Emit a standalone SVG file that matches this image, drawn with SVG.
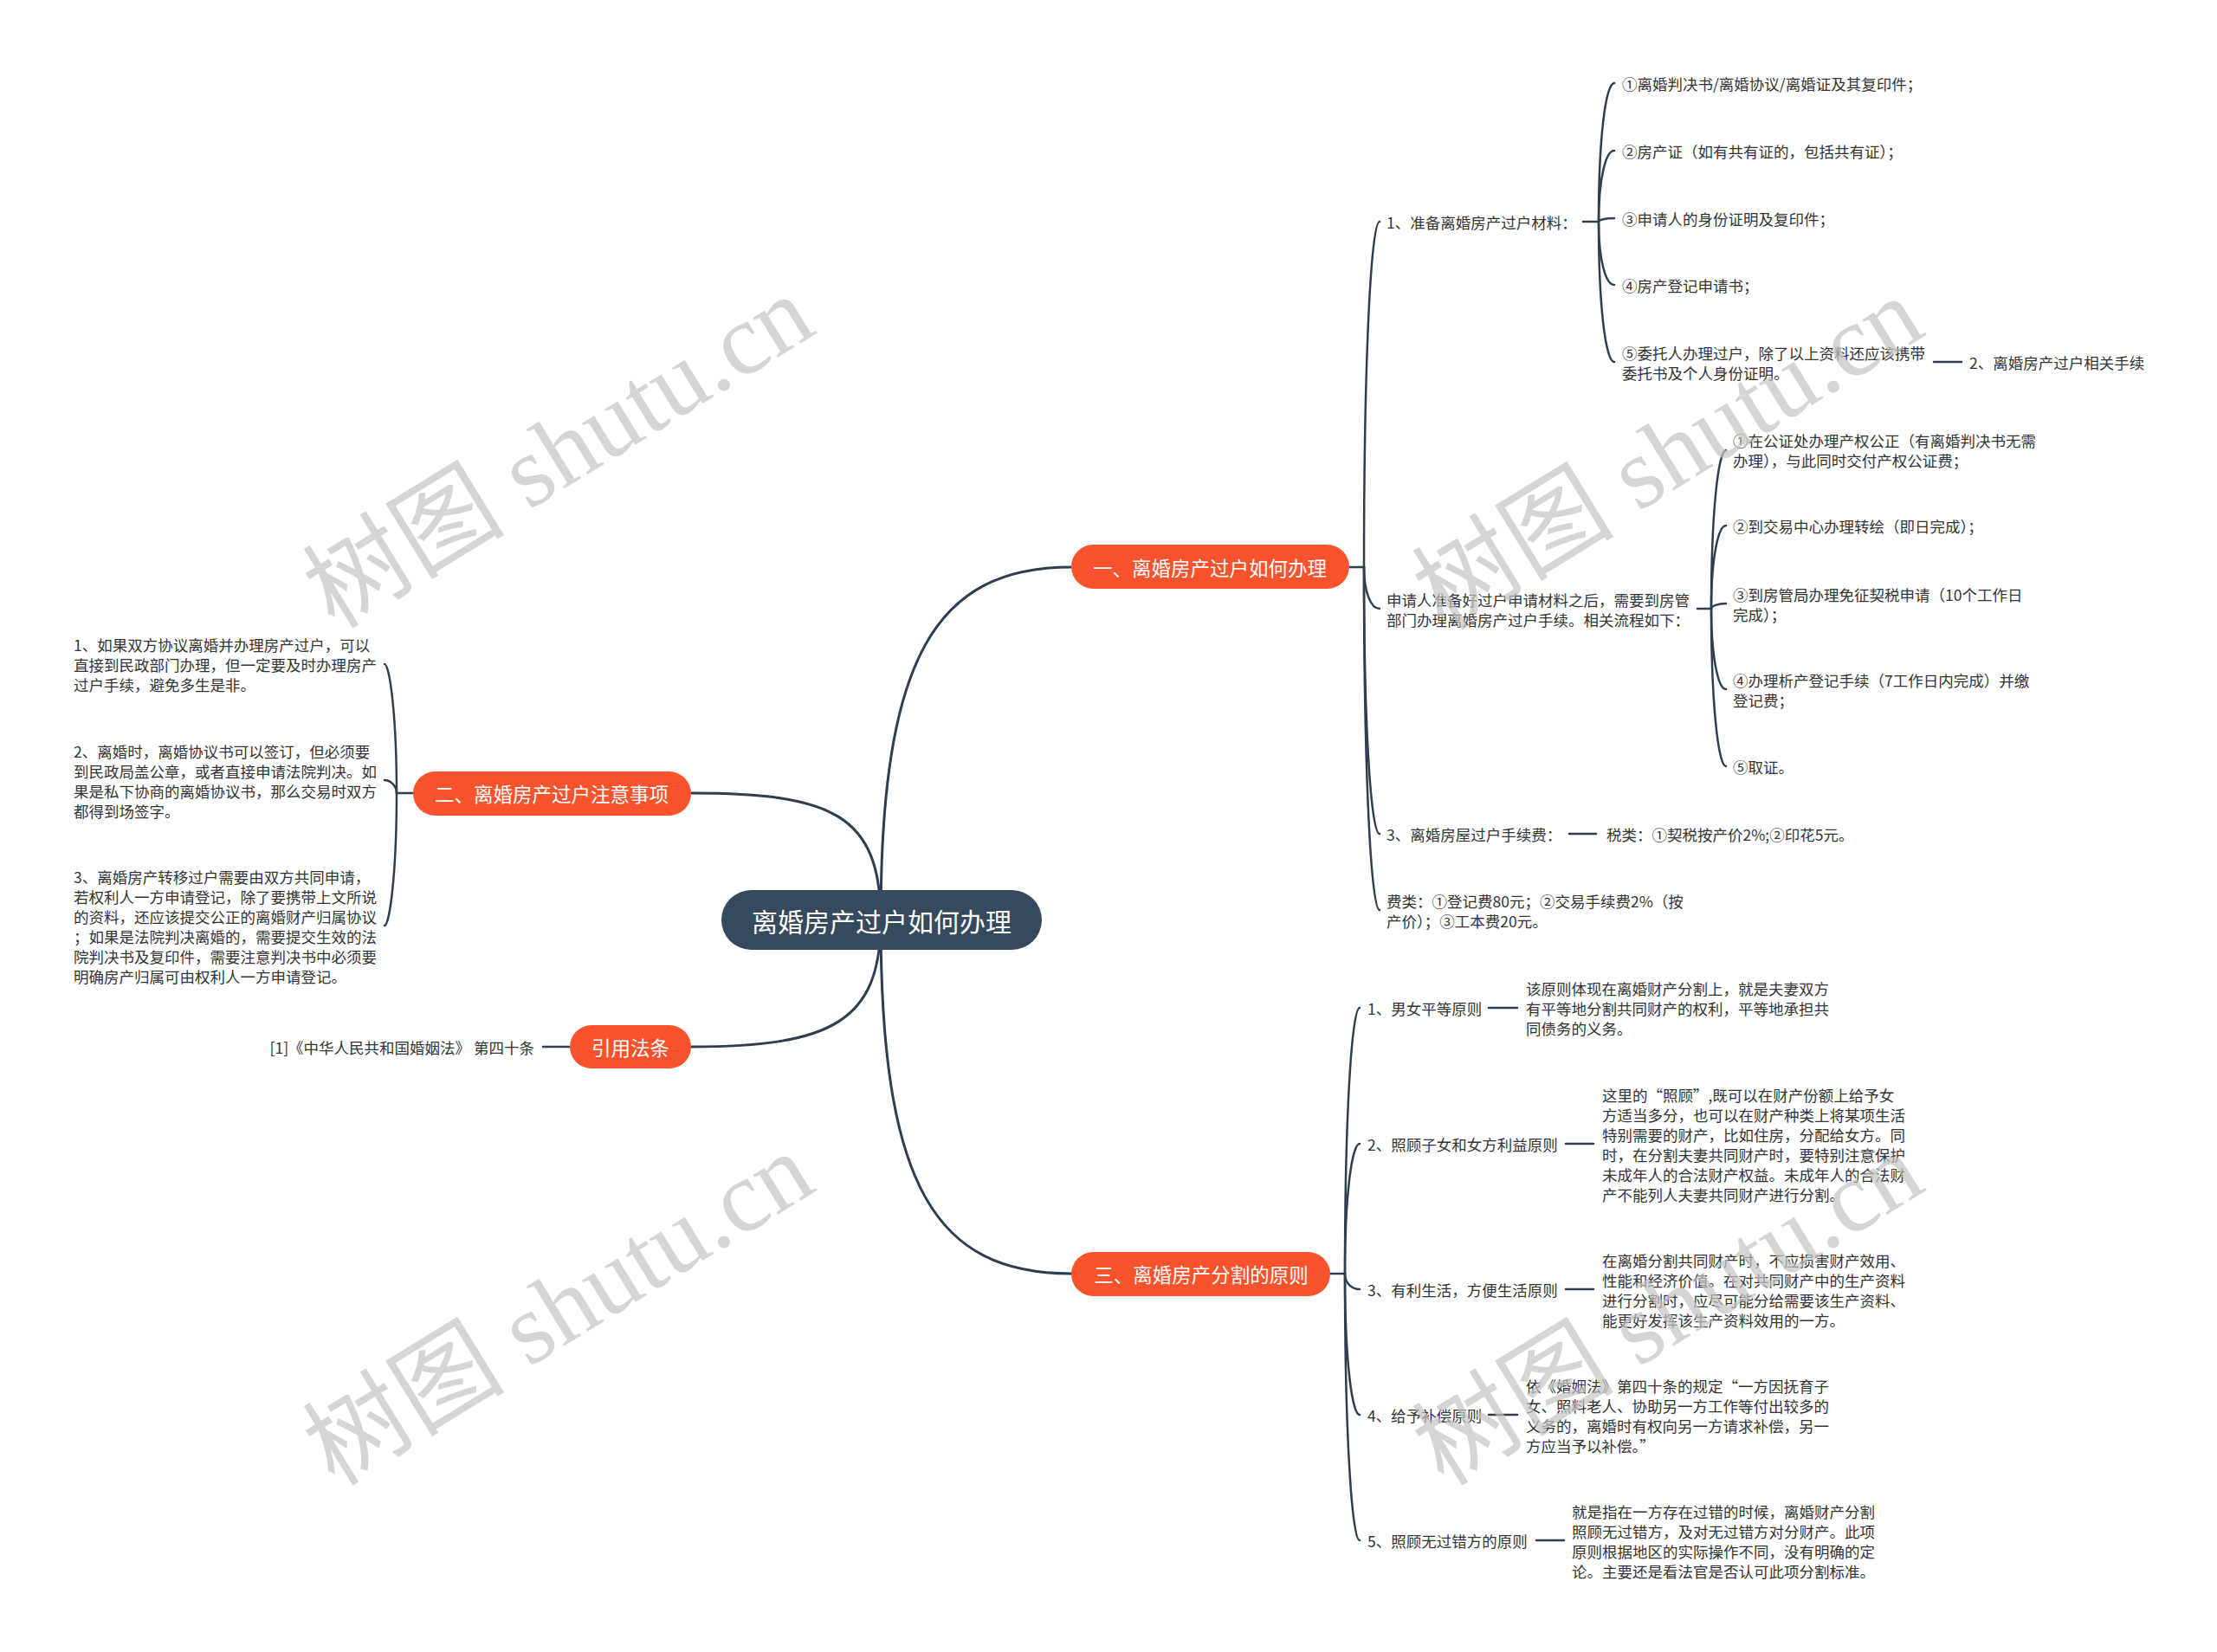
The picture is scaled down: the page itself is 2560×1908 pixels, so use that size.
<svg xmlns="http://www.w3.org/2000/svg" width="2560" height="1908" viewBox="0 0 2560 1908">
<style>
.ln{fill:none;stroke:#2e3e4e;stroke-width:2.5;stroke-linecap:round}
.mn{stroke-width:3}
.t{font-family:"Noto Sans CJK SC","Noto Sans",sans-serif;font-size:17.5px;fill:#333;dominant-baseline:central}
.r{text-anchor:end}
.b{font-family:"Noto Sans CJK SC","Noto Sans",sans-serif;font-size:22.5px;fill:#fff;text-anchor:middle;dominant-baseline:central}
.c{font-size:30px}
.or{fill:#f9532d}
.wm{font-family:"Liberation Serif","Noto Sans CJK SC",serif;font-size:117px;fill:#c4c4c4;opacity:0.7;text-anchor:middle;dominant-baseline:central}
</style>
<rect width="2560" height="1908" fill="#fff"/>
<g id="connectors">
<path class="ln mn" d="M1017,1063 C1017,760 1080,655 1237,655"/>
<path class="ln mn" d="M1017,1063 C1017,940 960,916 798,916"/>
<path class="ln mn" d="M1017,1063 C1017,1180 960,1209 798,1209"/>
<path class="ln mn" d="M1017,1063 C1017,1370 1080,1471 1237,1471"/>
<path class="ln" d="M1558,655 H1575"/>
<path class="ln" d="M1575,655 C1575,416 1583,256 1593,256"/>
<path class="ln" d="M1575,655 C1575,684 1583,703 1593,703"/>
<path class="ln" d="M1575,655 C1575,840 1583,963 1593,963"/>
<path class="ln" d="M1575,655 C1575,893 1583,1051 1593,1051"/>
<path class="ln" d="M1828,256 H1846"/>
<path class="ln" d="M1846,256 C1846,160 1854,96 1864,96"/>
<path class="ln" d="M1846,256 C1846,207 1854,174 1864,174"/>
<path class="ln" d="M1846,256 C1846,254 1854,252 1864,252"/>
<path class="ln" d="M1846,256 C1846,300 1854,329 1864,329"/>
<path class="ln" d="M1846,256 C1846,353 1854,418 1864,418"/>
<path class="ln" d="M2233,418 H2265"/>
<path class="ln" d="M1960,703 H1976"/>
<path class="ln" d="M1976,703 C1976,593 1984,520 1993,520"/>
<path class="ln" d="M1976,703 C1976,645 1984,607 1993,607"/>
<path class="ln" d="M1976,703 C1976,700 1984,697 1993,697"/>
<path class="ln" d="M1976,703 C1976,759 1984,796 1993,796"/>
<path class="ln" d="M1976,703 C1976,812 1984,885 1993,885"/>
<path class="ln" d="M1812,963 H1843"/>
<path class="ln" d="M1536,1471 H1553"/>
<path class="ln" d="M1553,1471 C1553,1287 1561,1164 1570,1164"/>
<path class="ln" d="M1553,1471 C1553,1381 1561,1321 1570,1321"/>
<path class="ln" d="M1553,1471 C1553,1482 1561,1489 1570,1489"/>
<path class="ln" d="M1553,1471 C1553,1569 1561,1634 1570,1634"/>
<path class="ln" d="M1553,1471 C1553,1656 1561,1779 1570,1779"/>
<path class="ln" d="M1719,1164 H1752"/>
<path class="ln" d="M1808,1321 H1840"/>
<path class="ln" d="M1808,1489 H1840"/>
<path class="ln" d="M1719,1634 H1752"/>
<path class="ln" d="M1774,1779 H1806"/>
<path class="ln" d="M477,916 H458"/>
<path class="ln" d="M458,916 C458,827 450,767 444,767"/>
<path class="ln" d="M458,916 C458,907 450,901 444,901"/>
<path class="ln" d="M458,916 C458,1008 450,1069 444,1069"/>
<path class="ln" d="M627,1209 H658"/>
</g>
<g id="root"><rect x="833" y="1028" width="370" height="69" rx="34.5" fill="#354a5c"/><text class="b c" x="1018" y="1063">离婚房产过户如何办理</text></g>
<g id="b1"><rect class="or" x="1237" y="629" width="321" height="51" rx="25.5"/><text class="b" x="1397" y="655">一、离婚房产过户如何办理</text></g>
<g id="b2"><rect class="or" x="477" y="891" width="321" height="51" rx="25.5"/><text class="b" x="637" y="916">二、离婚房产过户注意事项</text></g>
<g id="b3"><rect class="or" x="658" y="1184" width="140" height="50" rx="25"/><text class="b" x="728" y="1209">引用法条</text></g>
<g id="b4"><rect class="or" x="1237" y="1446" width="299" height="51" rx="25.5"/><text class="b" x="1387" y="1471">三、离婚房产分割的原则</text></g>
<g id="n1-1"><text class="t" x="1601" y="256">1、准备离婚房产过户材料：</text></g>
<g id="n1-1-1"><text class="t" x="1873" y="96">①离婚判决书/离婚协议/离婚证及其复印件；</text></g>
<g id="n1-1-2"><text class="t" x="1873" y="174">②房产证（如有共有证的，包括共有证）；</text></g>
<g id="n1-1-3"><text class="t" x="1873" y="252">③申请人的身份证明及复印件；</text></g>
<g id="n1-1-4"><text class="t" x="1873" y="329">④房产登记申请书；</text></g>
<g id="n1-1-5"><text class="t" x="1873"><tspan x="1873" y="407">⑤委托人办理过户，除了以上资料还应该携带</tspan><tspan x="1873" y="430">委托书及个人身份证明。</tspan></text></g>
<g id="n1-1-5-1"><text class="t" x="2274" y="418">2、离婚房产过户相关手续</text></g>
<g id="n1-2"><text class="t"><tspan x="1601" y="692">申请人准备好过户申请材料之后，需要到房管</tspan><tspan x="1601" y="715">部门办理离婚房产过户手续。相关流程如下：</tspan></text></g>
<g id="n1-2-1"><text class="t"><tspan x="2001" y="508">①在公证处办理产权公正（有离婚判决书无需</tspan><tspan x="2001" y="531">办理），与此同时交付产权公证费；</tspan></text></g>
<g id="n1-2-2"><text class="t" x="2001" y="607">②到交易中心办理转绘（即日完成）；</text></g>
<g id="n1-2-3"><text class="t"><tspan x="2001" y="686">③到房管局办理免征契税申请（10个工作日</tspan><tspan x="2001" y="709">完成）；</tspan></text></g>
<g id="n1-2-4"><text class="t"><tspan x="2001" y="785">④办理析产登记手续（7工作日内完成）并缴</tspan><tspan x="2001" y="808">登记费；</tspan></text></g>
<g id="n1-2-5"><text class="t" x="2001" y="885">⑤取证。</text></g>
<g id="n1-3"><text class="t" x="1601" y="963">3、离婚房屋过户手续费：</text></g>
<g id="n1-3-1"><text class="t" x="1855" y="963">税类：①契税按产价2%;②印花5元。</text></g>
<g id="n1-4"><text class="t"><tspan x="1601" y="1040">费类：①登记费80元；②交易手续费2%（按</tspan><tspan x="1601" y="1063">产价）；③工本费20元。</tspan></text></g>
<g id="n2-1"><text class="t"><tspan x="85" y="744">1、如果双方协议离婚并办理房产过户，可以</tspan><tspan x="85" y="767">直接到民政部门办理，但一定要及时办理房产</tspan><tspan x="85" y="790">过户手续，避免多生是非。</tspan></text></g>
<g id="n2-2"><text class="t"><tspan x="85" y="867">2、离婚时，离婚协议书可以签订，但必须要</tspan><tspan x="85" y="890">到民政局盖公章，或者直接申请法院判决。如</tspan><tspan x="85" y="913">果是私下协商的离婚协议书，那么交易时双方</tspan><tspan x="85" y="936">都得到场签字。</tspan></text></g>
<g id="n2-3"><text class="t"><tspan x="85" y="1012">3、离婚房产转移过户需要由双方共同申请，</tspan><tspan x="85" y="1035">若权利人一方申请登记，除了要携带上文所说</tspan><tspan x="85" y="1058">的资料，还应该提交公正的离婚财产归属协议</tspan><tspan x="85" y="1081">；如果是法院判决离婚的，需要提交生效的法</tspan><tspan x="85" y="1104">院判决书及复印件，需要注意判决书中必须要</tspan><tspan x="85" y="1127">明确房产归属可由权利人一方申请登记。</tspan></text></g>
<g id="n3-1"><text class="t r" x="617" y="1209">[1]《中华人民共和国婚姻法》 第四十条</text></g>
<g id="n4-1"><text class="t" x="1579" y="1164">1、男女平等原则</text></g>
<g id="n4-1-1"><text class="t"><tspan x="1762" y="1141">该原则体现在离婚财产分割上，就是夫妻双方</tspan><tspan x="1762" y="1164">有平等地分割共同财产的权利，平等地承担共</tspan><tspan x="1762" y="1187">同债务的义务。</tspan></text></g>
<g id="n4-2"><text class="t" x="1579" y="1321">2、照顾子女和女方利益原则</text></g>
<g id="n4-2-1"><text class="t"><tspan x="1850" y="1264">这里的“照顾”,既可以在财产份额上给予女</tspan><tspan x="1850" y="1287">方适当多分，也可以在财产种类上将某项生活</tspan><tspan x="1850" y="1310">特别需要的财产，比如住房，分配给女方。同</tspan><tspan x="1850" y="1333">时，在分割夫妻共同财产时，要特别注意保护</tspan><tspan x="1850" y="1356">未成年人的合法财产权益。未成年人的合法财</tspan><tspan x="1850" y="1379">产不能列人夫妻共同财产进行分割。</tspan></text></g>
<g id="n4-3"><text class="t" x="1579" y="1489">3、有利生活，方便生活原则</text></g>
<g id="n4-3-1"><text class="t"><tspan x="1850" y="1455">在离婚分割共同财产时，不应损害财产效用、</tspan><tspan x="1850" y="1478">性能和经济价值。在对共同财产中的生产资料</tspan><tspan x="1850" y="1501">进行分割时，应尽可能分给需要该生产资料、</tspan><tspan x="1850" y="1524">能更好发挥该生产资料效用的一方。</tspan></text></g>
<g id="n4-4"><text class="t" x="1579" y="1634">4、给予补偿原则</text></g>
<g id="n4-4-1"><text class="t"><tspan x="1762" y="1600">依《婚姻法》第四十条的规定“一方因抚育子</tspan><tspan x="1762" y="1623">女、照料老人、协助另一方工作等付出较多的</tspan><tspan x="1762" y="1646">义务的，离婚时有权向另一方请求补偿，另一</tspan><tspan x="1762" y="1669">方应当予以补偿。”</tspan></text></g>
<g id="n4-5"><text class="t" x="1579" y="1779">5、照顾无过错方的原则</text></g>
<g id="n4-5-1"><text class="t"><tspan x="1815" y="1745">就是指在一方存在过错的时候，离婚财产分割</tspan><tspan x="1815" y="1768">照顾无过错方，及对无过错方对分财产。此项</tspan><tspan x="1815" y="1791">原则根据地区的实际操作不同，没有明确的定</tspan><tspan x="1815" y="1814">论。主要还是看法官是否认可此项分割标准。</tspan></text></g>
<g id="watermarks">
<text class="wm" transform="translate(645,522) rotate(-31.6)">树图 shutu.cn</text>
<text class="wm" transform="translate(1926,524) rotate(-31.6)">树图 shutu.cn</text>
<text class="wm" transform="translate(645,1512) rotate(-31.6)">树图 shutu.cn</text>
<text class="wm" transform="translate(1926,1512) rotate(-31.6)">树图 shutu.cn</text>
</g>
</svg>
